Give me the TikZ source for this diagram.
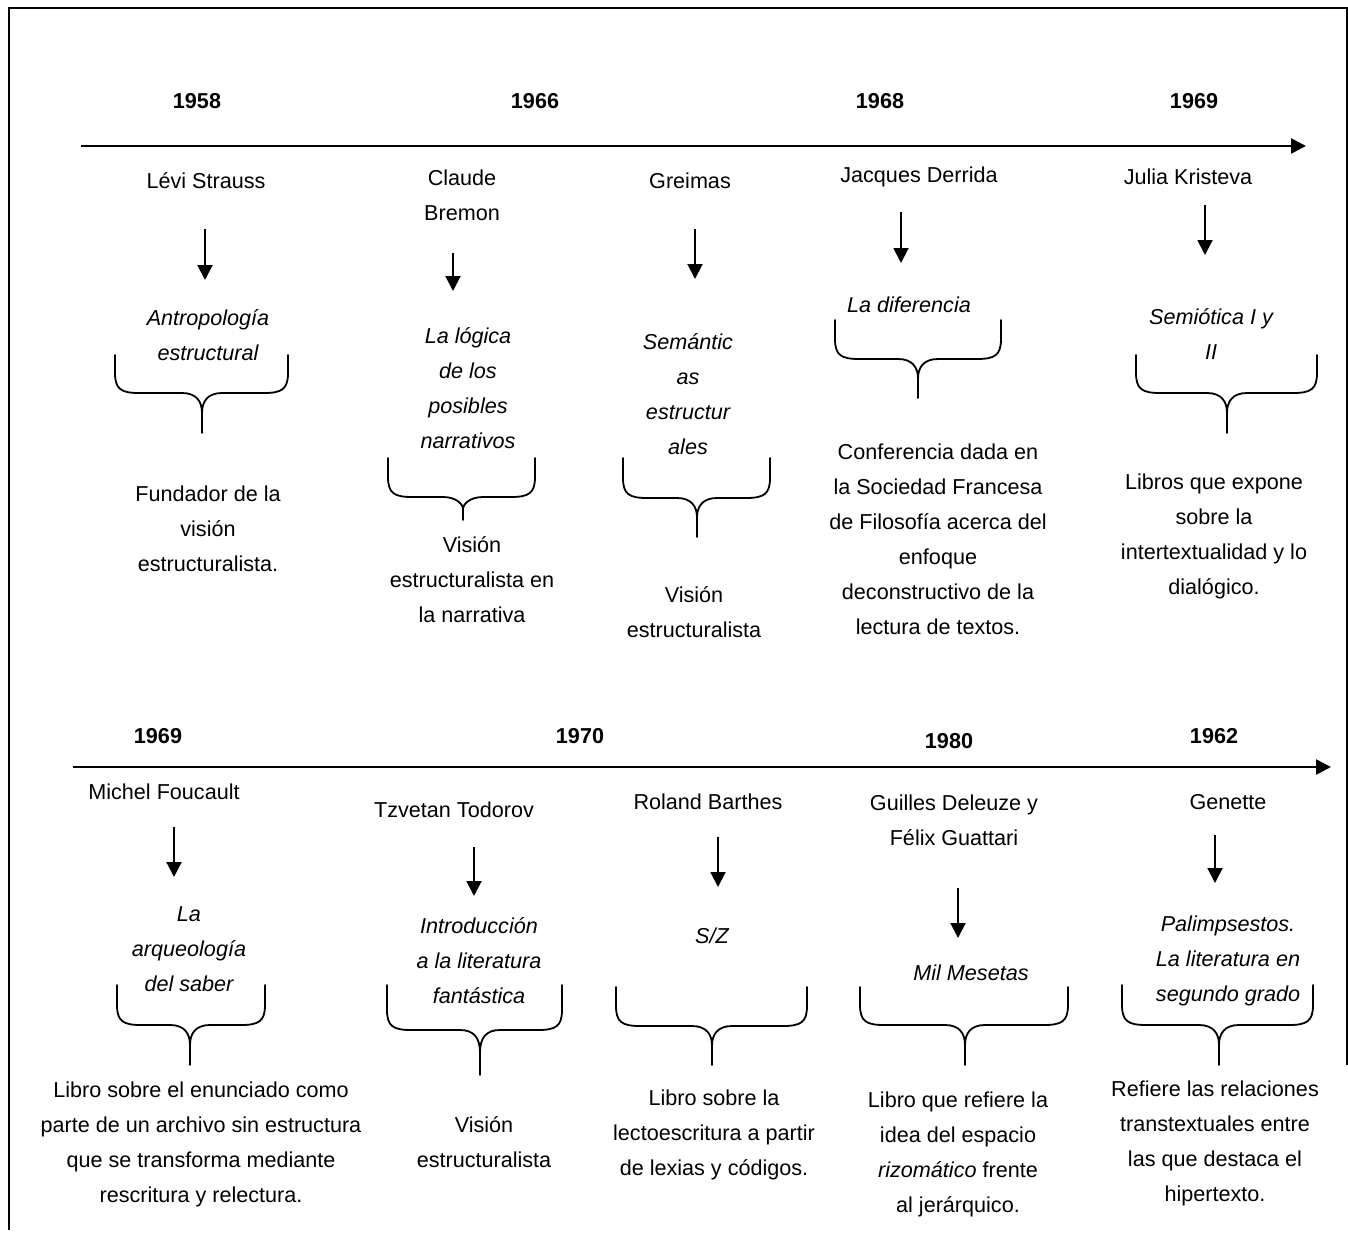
\documentclass[tikz,border=0pt]{standalone}
\usepackage{fontspec}
\setmainfont{Liberation Sans}
\usetikzlibrary{arrows.meta}

% curly brace opening downwards: left x, right x, centre x, top y, bar y, tip y
\newcommand\tlbrace[6]{%
  \draw[bracestyle] (#1,#4) -- (#1,#5-20)
    .. controls (#1,#5-4) and (#1+6,#5) .. (#1+24,#5) -- (#3-20,#5)
    .. controls (#3-6,#5) and (#3,#5+8) .. (#3,{#5+0.5*(#6-#5)}) -- (#3,#6);
  \draw[bracestyle] (#2,#4) -- (#2,#5-20)
    .. controls (#2,#5-4) and (#2-6,#5) .. (#2-24,#5) -- (#3+20,#5)
    .. controls (#3+6,#5) and (#3,#5+8) .. (#3,{#5+0.5*(#6-#5)});
}

\tikzset{
  base/.style={inner sep=0pt, align=center, font=\fontsize{21.6}{35}\selectfont},
  yr/.style={base, font=\fontsize{21.6}{35}\selectfont\bfseries},
  who/.style={base},
  work/.style={base, font=\fontsize{21.6}{35}\selectfont\itshape},
  note/.style={base},
  axisline/.style={line width=2.5pt, -{Triangle[length=15pt,width=15pt]}},
  downarrow/.style={line width=2pt, -{Triangle[length=15pt,width=15pt]}},
  bracestyle/.style={line width=1.8pt, line cap=round},
  framestyle/.style={line width=1.5pt}
}

\begin{document}
\begin{tikzpicture}[x=1pt, y=-1pt]
\useasboundingbox (0,0) rectangle (1348,1234);
\fill[white] (0,0) rectangle (1348,1234);

% outer frame
\draw[framestyle] (9,1230) -- (9,8) -- (1347,8) -- (1347,1065);

% ---------- first timeline ----------
\node[yr] (y58) at (197,101) {1958};
\node[yr] (y66) at (535,101) {1966};
\node[yr] (y68) at (880,101) {1968};
\node[yr] (y69a) at (1194,101) {1969};
\coordinate (axAs) at (81,146);
\coordinate (axAe) at (1306,146);
\draw[axisline] (axAs) -- (axAe);

\node[who] (n1) at (206,181) {Lévi Strauss};
\node[who] (n2) at (462,195) {Claude\\Bremon};
\node[who] (n3) at (690,181) {Greimas};
\node[who] (n4) at (919,177) {Jacques Derrida};
\node[who] (n5) at (1188,177) {Julia Kristeva};

\coordinate (a1s) at (205,229); \coordinate (a1e) at (205,280);
\coordinate (a2s) at (453,253); \coordinate (a2e) at (453,291);
\coordinate (a3s) at (695,229); \coordinate (a3e) at (695,279);
\coordinate (a4s) at (901,212); \coordinate (a4e) at (901,263);
\coordinate (a5s) at (1205,205); \coordinate (a5e) at (1205,255);
\foreach \i in {1,...,5} \draw[downarrow] (a\i s) -- (a\i e);

\node[work] (t1) at (208,335) {Antropología\\estructural};
\node[work] (t2) at (468,388) {La lógica\\de los\\posibles\\narrativos};
\node[work] (t3) at (688,394.5) {Semántic\\as\\estructur\\ales};
\node[work] (t4) at (909,305) {La diferencia};
\node[work] (t5) at (1211,334.5) {Semiótica I y\\II};

\tlbrace{115}{288}{202}{355}{393}{433}
\tlbrace{388}{535}{463}{458}{497}{520}
\tlbrace{623}{770}{697}{458}{498}{537}
\tlbrace{835}{1001}{918}{320}{359}{398}
\tlbrace{1136}{1317}{1227}{355}{393}{433}

\node[note] (d1) at (208,529) {Fundador de la\\visión\\estructuralista.};
\node[note] (d2) at (472,580) {Visión\\estructuralista en\\la narrativa};
\node[note] (d3) at (694,612) {Visión\\estructuralista};
\node[note] (d4) at (938,539.5) {Conferencia dada en\\la Sociedad Francesa\\de Filosofía acerca del\\enfoque\\deconstructivo de la\\lectura de textos.};
\node[note] (d5) at (1214,536.5) {Libros que expone\\sobre la\\intertextualidad y lo\\dialógico.};

% ---------- second timeline ----------
\node[yr] (y69b) at (158,736) {1969};
\node[yr] (y70) at (580,736) {1970};
\node[yr] (y80) at (949,741) {1980};
\node[yr] (y62) at (1214,736) {1962};
\coordinate (axBs) at (73,767);
\coordinate (axBe) at (1331,767);
\draw[axisline] (axBs) -- (axBe);

\node[who] (m1) at (164,792) {Michel Foucault};
\node[who] (m2) at (454,810) {Tzvetan Todorov};
\node[who] (m3) at (708,802) {Roland Barthes};
\node[who] (m4) at (954,820) {Guilles Deleuze y\\Félix Guattari};
\node[who] (m5) at (1228,802) {Genette};

\coordinate (b1s) at (174,827); \coordinate (b1e) at (174,877);
\coordinate (b2s) at (474,847); \coordinate (b2e) at (474,896);
\coordinate (b3s) at (718,837); \coordinate (b3e) at (718,887);
\coordinate (b4s) at (958,888); \coordinate (b4e) at (958,938);
\coordinate (b5s) at (1215,835); \coordinate (b5e) at (1215,883);
\foreach \i in {1,...,5} \draw[downarrow] (b\i s) -- (b\i e);

\node[work] (w1) at (189,949.5) {La\\arqueología\\del saber};
\node[work] (w2) at (479,961) {Introducción\\a la literatura\\fantástica};
\node[work] (w3) at (712,936) {S/Z};
\node[work] (w4) at (971,973) {Mil Mesetas};
\node[work] (w5) at (1228,961) {Palimpsestos.\\La literatura en\\segundo grado};

\tlbrace{117}{265}{190}{985}{1025}{1065}
\tlbrace{387}{562}{480}{985}{1030}{1075}
\tlbrace{616}{807}{712}{987}{1026}{1065}
\tlbrace{860}{1068}{965}{987}{1025}{1065}
\tlbrace{1122}{1313}{1219}{985}{1025}{1065}

\node[note] (e1) at (201,1144) {Libro sobre el enunciado como\\parte de un archivo sin estructura\\que se transforma mediante\\rescritura y relectura.};
\node[note] (e2) at (484,1142) {Visión\\estructuralista};
\node[note] (e3) at (714,1135) {Libro sobre la\\lectoescritura a partir\\de lexias y códigos.};
\node[note] (e4) at (958,1154) {Libro que refiere la\\idea del espacio\\\textit{rizomático} frente\\al jerárquico.};
\node[note] (e5) at (1215,1143.5) {Refiere las relaciones\\transtextuales entre\\las que destaca el\\hipertexto.};
\end{tikzpicture}
\end{document}
